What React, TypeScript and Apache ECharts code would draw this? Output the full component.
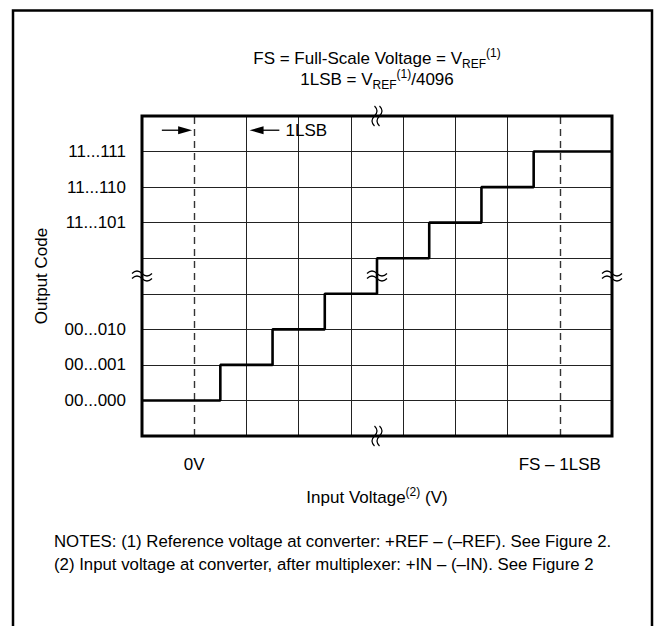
import React, { useEffect, useRef } from 'react';
import * as echarts from 'echarts';

// ---- data ----
const xTickLabels: Record<number, string> = { 1: '0V', 8: 'FS – 1LSB' };
const codeTickLabels: Record<number, string> = {
  1: '00...000',
  2: '00...001',
  3: '00...010',
  6: '11...101',
  7: '11...110',
  8: '11...111',
};
const transitionVoltages = [0, 1.5, 2.5, 3.5, 4.5, 5.5, 6.5, 7.5, 9];
const outputCodes = [1, 2, 3, 4, 5, 6, 7, 8, 8];
const solidGridCols = [2, 3, 4, 5, 6, 7];
const dashedRefCols = [1, 8];
const axisBreaks = [
  { x: 4.5, y: 9, vertical: true },
  { x: 4.5, y: 0, vertical: true },
  { x: 0, y: 4.5, vertical: false },
  { x: 9, y: 4.5, vertical: false },
  { x: 4.5, y: 4.5, vertical: false },
];
const titleLine1 = ['FS = Full-Scale Voltage = V', 'REF', '(1)', ''];
const titleLine2 = ['1LSB = V', 'REF', '(1)', '/4096'];
const notes = [
  'NOTES: (1) Reference voltage at converter: +REF – (–REF). See Figure 2.',
  '(2) Input voltage at converter, after multiplexer: +IN – (–IN). See Figure 2',
];

const FONT = '"Liberation Sans", Arial, Helvetica, sans-serif';
const WAVE_D = 'M-10 -2.5 Q-5 -7.5 0 -2.5 T10 -2.5 M-10 2.5 Q-5 -2.5 0 2.5 T10 2.5';
echarts.graphic.registerShape('axisBreak', echarts.graphic.extendPath(WAVE_D, {}));

const richTitle = {
  n: { fontSize: 17, fontFamily: FONT, fill: '#000', lineHeight: 23, verticalAlign: 'middle' },
  sub: { fontSize: 12, fontFamily: FONT, fill: '#000', lineHeight: 12, padding: [11, 0, 0, 0], verticalAlign: 'middle' },
  sup: { fontSize: 12, fontFamily: FONT, fill: '#000', lineHeight: 12, padding: [0, 0, 11, 0], verticalAlign: 'middle' },
};

function richLine(parts: string[]) {
  let s = `{n|${parts[0]}}{sub|${parts[1]}}{sup|${parts[2]}}`;
  if (parts[3]) s += `{n|${parts[3]}}`;
  return s;
}

export default function App() {
  const ref = useRef<HTMLDivElement>(null);
  useEffect(() => {
    if (!ref.current) return;
    const chart = echarts.init(ref.current, null, { renderer: 'svg' });
    chart.setOption({
      animation: false,
      backgroundColor: '#fff',
      grid: { left: 142, top: 116, width: 470, height: 320, show: false },
      xAxis: {
        type: 'value',
        min: 0,
        max: 9,
        interval: 1,
        axisLine: { show: false },
        axisTick: { show: false },
        splitLine: { show: false },
        axisLabel: {
          margin: 20,
          fontSize: 17,
          fontFamily: FONT,
          color: '#000',
          formatter: (v: number) => xTickLabels[v] ?? '',
        },
        name: '{n|Input Voltage}{sup|(2)}{n| (V)}',
        nameLocation: 'middle',
        nameGap: 50,
        nameTextStyle: {
          rich: {
            n: { fontSize: 17, fontFamily: FONT, color: '#000', lineHeight: 22, verticalAlign: 'middle' },
            sup: { fontSize: 12, fontFamily: FONT, color: '#000', lineHeight: 12, padding: [0, 0, 10, 0], verticalAlign: 'middle' },
          },
        },
      },
      yAxis: {
        type: 'value',
        min: 0,
        max: 9,
        interval: 1,
        axisLine: { show: false },
        axisTick: { show: false },
        splitLine: { show: true, lineStyle: { color: '#222', width: 1 } },
        axisLabel: {
          margin: 16,
          fontSize: 17,
          fontFamily: FONT,
          color: '#000',
          formatter: (v: number) => codeTickLabels[v] ?? '',
        },
        name: 'Output Code',
        nameLocation: 'middle',
        nameGap: 92,
        nameTextStyle: { fontSize: 17, fontFamily: FONT, color: '#000' },
      },
      series: [
        {
          type: 'line',
          step: 'end',
          symbol: 'none',
          data: transitionVoltages.map((v, i) => [v, outputCodes[i]]),
          lineStyle: { color: '#000', width: 2.6 },
          z: 5,
          markLine: {
            silent: true,
            symbol: ['none', 'none'],
            label: { show: false },
            z: 1,
            data: [
              ...solidGridCols.map((c) => ({ xAxis: c, lineStyle: { color: '#222', width: 1, type: 'solid' } })),
              ...dashedRefCols.map((c) => ({ xAxis: c, lineStyle: { color: '#333', width: 1.4, type: [7, 5] } })),
            ],
          },
        },
      ],
    });

    const px = (x: number, y: number) => chart.convertToPixel({ gridIndex: 0 }, [x, y]) as number[];
    const tl = px(0, 9);
    const br = px(9, 0);
    const arrowY = px(0, 8.6)[1];
    const a1Tail = px(0.38, 8.6)[0];
    const a1Tip = px(0.96, 8.6)[0];
    const a2Tip = px(2.06, 8.6)[0];
    const a2Tail = px(2.63, 8.6)[0];
    const lsbX = px(2.75, 8.6)[0];
    const cx = (tl[0] + br[0]) / 2;

    const arrow = (tail: number, tip: number) => {
      const d = tip > tail ? 1 : -1;
      return [
        { type: 'line', shape: { x1: tail, y1: arrowY, x2: tip - d * 10, y2: arrowY }, style: { stroke: '#000', lineWidth: 1.3 }, z: 20 },
        {
          type: 'polygon',
          shape: { points: [[tip, arrowY], [tip - d * 14, arrowY - 4], [tip - d * 14, arrowY + 4]] },
          style: { fill: '#000' },
          z: 20,
        },
      ];
    };

    const graphics: any[] = [
      { type: 'rect', shape: { x: 13, y: 10.5, width: 639, height: 680 }, style: { fill: 'none', stroke: '#000', lineWidth: 2.5 }, z: 20 },
      { type: 'rect', shape: { x: tl[0], y: tl[1], width: br[0] - tl[0], height: br[1] - tl[1] }, style: { fill: 'none', stroke: '#000', lineWidth: 3 }, z: 20 },
      ...arrow(a1Tail, a1Tip),
      ...arrow(a2Tail, a2Tip),
      {
        type: 'text',
        x: lsbX,
        y: arrowY,
        style: { text: '1LSB', fontSize: 17, fontFamily: FONT, fill: '#000', align: 'left', verticalAlign: 'middle' },
        z: 20,
      },
      ...axisBreaks.map((b) => {
        const p = px(b.x, b.y);
        return {
          type: 'axisBreak',
          x: p[0],
          y: p[1],
          rotation: b.vertical ? Math.PI / 2 : 0,
          style: { fill: 'none', stroke: '#000', lineWidth: 1.2 },
          z: 21,
        };
      }),
      {
        type: 'text',
        x: cx,
        y: 58,
        style: { text: richLine(titleLine1), rich: richTitle, align: 'center', verticalAlign: 'middle' },
        z: 20,
      },
      {
        type: 'text',
        x: cx,
        y: 79,
        style: { text: richLine(titleLine2), rich: richTitle, align: 'center', verticalAlign: 'middle' },
        z: 20,
      },
      ...notes.map((t, i) => ({
        type: 'text',
        x: 54,
        y: 541 + i * 23,
        style: { text: t, fontSize: 16.8, fontFamily: FONT, fill: '#000', align: 'left', verticalAlign: 'middle' },
        z: 20,
      })),
    ];
    chart.setOption({ graphic: graphics });
    return () => chart.dispose();
  }, []);
  return <div ref={ref} style={{ position: 'absolute', left: 0, top: 0, width: 658, height: 626 }} />;
}
